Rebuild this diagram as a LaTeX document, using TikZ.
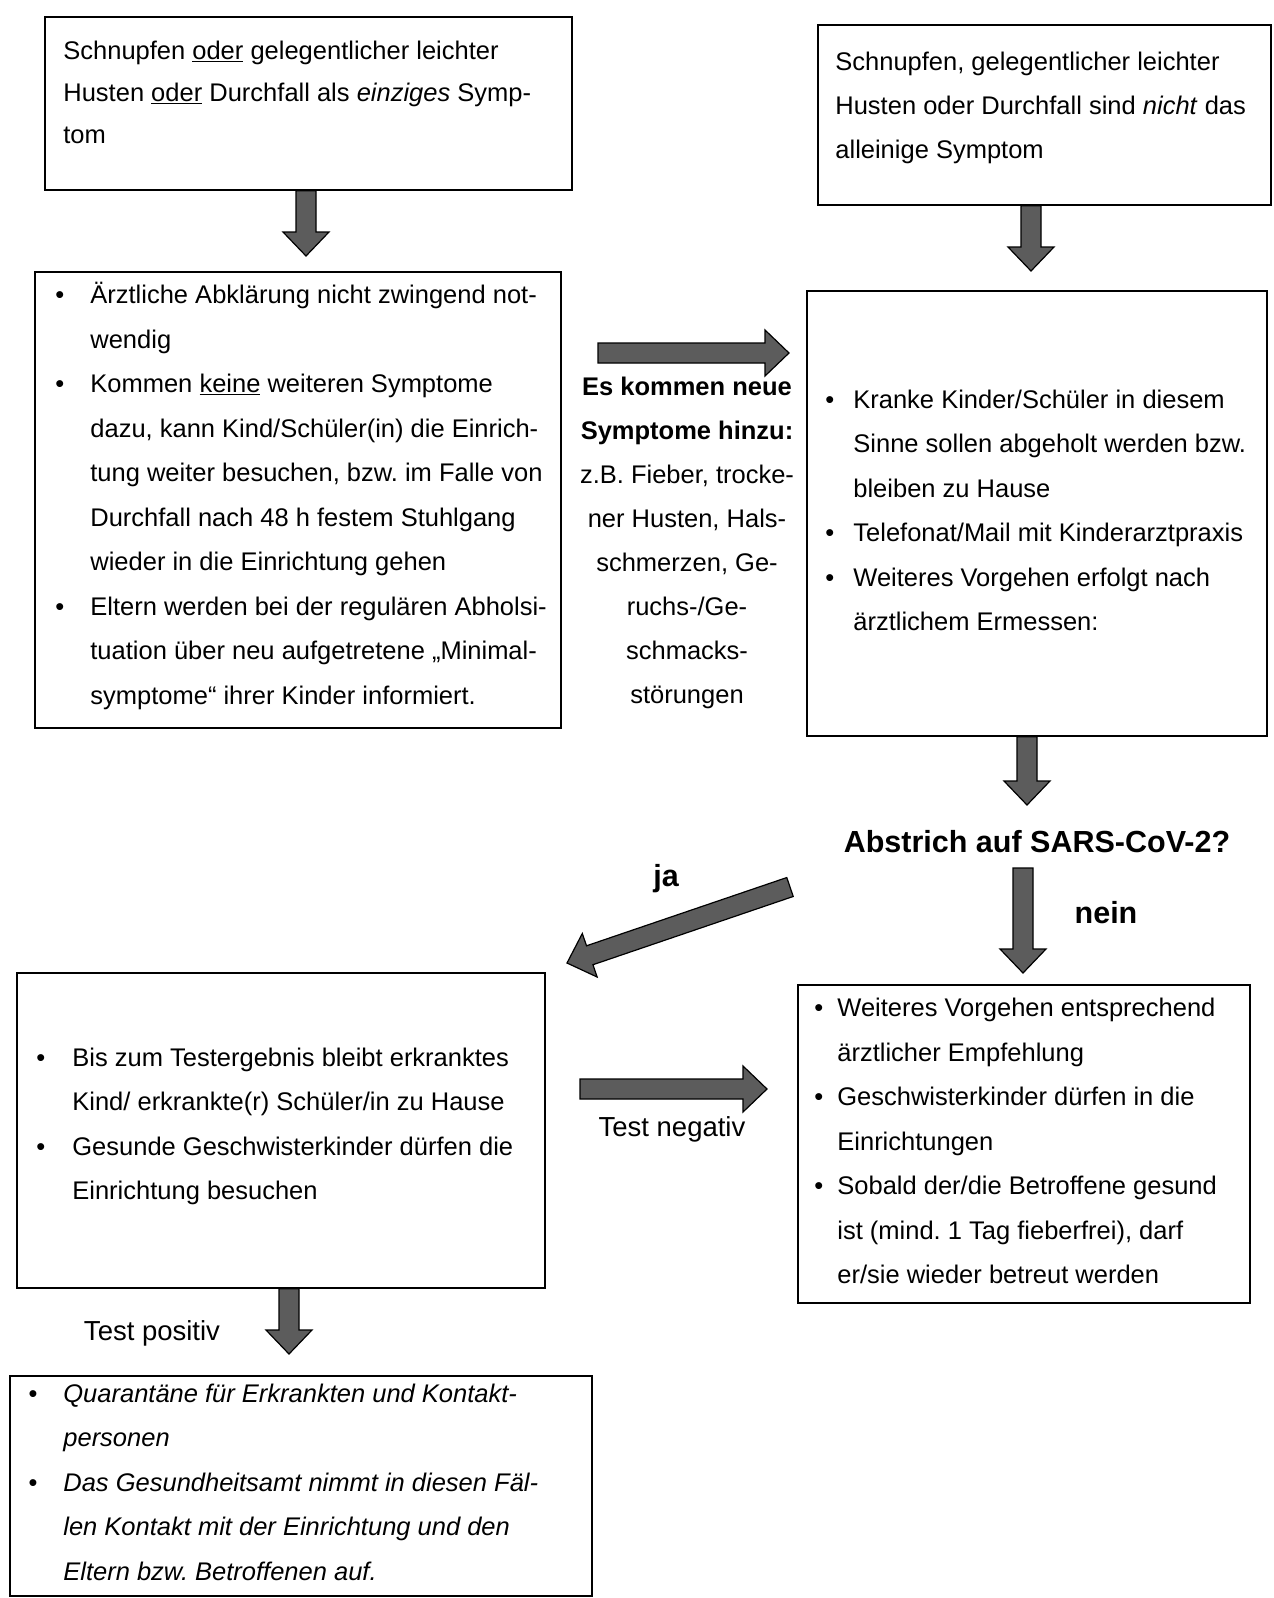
\documentclass[tikz,border=0pt]{standalone}
\usepackage{fontspec}
\setmainfont{Liberation Sans}
\frenchspacing
\usetikzlibrary{calc, fit}
\definecolor{pfeilgrau}{HTML}{5C5C5C}
\newcommand{\pkt}[1]{\makebox[#1][l]{\textbullet}}
\newcommand{\weiter}[1]{\hspace*{#1}}
\tikzset{
  rahmen/.style={draw=black, line width=1.6pt, inner sep=0pt},
  fliess/.style={align=left, inner sep=0pt, anchor=west,
                 font=\fontsize{25.5}{44.5}\selectfont},
  marke/.style={inner sep=0pt, font=\fontsize{30.5}{36}\selectfont\bfseries},
  pfeil/.style={draw=black, line width=1.2pt, fill=pfeilgrau,
    to path={let \p1=($(\tikztotarget)-(\tikztostart)$),
                 \n1={veclen(\x1,\y1)}, \n2={atan2(\y1,\x1)} in
      ($(\tikztostart)+(\n2+90:10pt)$) -- ++(\n2:{\n1-24pt}) -- ++(\n2+90:13pt)
      -- (\tikztotarget)
      -- ($(\tikztostart)+(\n2:{\n1-24pt})+(\n2-90:23pt)$) -- ++(\n2+90:13pt)
      -- ($(\tikztostart)+(\n2-90:10pt)$) -- cycle}}
}

\begin{document}
\begin{tikzpicture}[x=1pt, y=-1pt]
  \useasboundingbox (0,0) rectangle (1274,1598);
  % Kaesten
  \node[rahmen, fit={(45,17) (572,190)}] (b1) {};
  \node[rahmen, fit={(818,25) (1271,205)}] (b2) {};
  \node[rahmen, fit={(35,272) (561,728)}] (b3) {};
  \node[rahmen, fit={(807,291) (1267,736)}] (b4) {};
  \node[rahmen, fit={(17,973) (545,1288)}] (b5) {};
  \node[rahmen, fit={(798,985) (1250,1303)}] (b6) {};
  \node[rahmen, fit={(10,1376) (592,1596)}] (b7) {};

  % Texte
  \node[fliess, font=\fontsize{25.5}{42}\selectfont] (t1) at ($(b1.west)+(19,-11)$)
    {Schnupfen \underline{oder} gelegentlicher leichter\\
     Husten \underline{oder} Durchfall als \textit{einziges} Symp-\\
     tom};
  \node[fliess, font=\fontsize{25.5}{44}\selectfont] (t2) at ($(b2.west)+(18,-7)$)
    {Schnupfen, gelegentlicher leichter\\
     Husten oder Durchfall sind \textit{nicht} das\\
     alleinige Symptom};
  \node[fliess] (t3) at ($(b3.west)+(21,-4)$)
    {\pkt{35pt}Ärztliche Abklärung nicht zwingend not-\\
     \weiter{35pt}wendig\\
     \pkt{35pt}Kommen \underline{keine} weiteren Symptome\\
     \weiter{35pt}dazu, kann Kind/Schüler(in) die Einrich-\\
     \weiter{35pt}tung weiter besuchen, bzw. im Falle von\\
     \weiter{35pt}Durchfall nach 48 h festem Stuhlgang\\
     \weiter{35pt}wieder in die Einrichtung gehen\\
     \pkt{35pt}Eltern werden bei der regulären Abholsi-\\
     \weiter{35pt}tuation über neu aufgetretene „Minimal-\\
     \weiter{35pt}symptome“ ihrer Kinder informiert.};
  \node[align=center, inner sep=0pt, font=\fontsize{25.5}{44}\selectfont] (m1) at (687,543)
    {\textbf{Es kommen neue}\\
     \textbf{Symptome hinzu:}\\
     z.B. Fieber, trocke-\\ner Husten, Hals-\\schmerzen, Ge-\\
     ruchs-/Ge-\\schmacks-\\störungen};
  \node[fliess] (t4) at ($(b4.west)+(19,-3)$)
    {\pkt{28pt}Kranke Kinder/Schüler in diesem\\
     \weiter{28pt}Sinne sollen abgeholt werden bzw.\\
     \weiter{28pt}bleiben zu Hause\\
     \pkt{28pt}Telefonat/Mail mit Kinderarztpraxis\\
     \pkt{28pt}Weiteres Vorgehen erfolgt nach\\
     \weiter{28pt}ärztlichem Ermessen:};
  \node[marke] (q) at (1037,842) {Abstrich auf SARS-CoV-2?};
  \node[marke] (lja) at (666,879) {ja};
  \node[marke] (lnein) at (1106,913) {nein};
  \node[fliess] (t5) at ($(b5.west)+(20,-4)$)
    {\pkt{36pt}Bis zum Testergebnis bleibt erkranktes\\
     \weiter{36pt}Kind/ erkrankte(r) Schüler/in zu Hause\\
     \pkt{36pt}Gesunde Geschwisterkinder dürfen die\\
     \weiter{36pt}Einrichtung besuchen};
  \node[fliess] (t6) at ($(b6.west)+(17,-3)$)
    {\pkt{23pt}Weiteres Vorgehen entsprechend\\
     \weiter{23pt}ärztlicher Empfehlung\\
     \pkt{23pt}Geschwisterkinder dürfen in die\\
     \weiter{23pt}Einrichtungen\\
     \pkt{23pt}Sobald der/die Betroffene gesund\\
     \weiter{23pt}ist (mind. 1 Tag fieberfrei), darf\\
     \weiter{23pt}er/sie wieder betreut werden};
  \node[inner sep=0pt, font=\fontsize{27.5}{32}\selectfont] (lneg) at (672,1129) {Test negativ};
  \node[inner sep=0pt, font=\fontsize{27.5}{32}\selectfont] (lpos) at (152,1333) {Test positiv};
  \node[fliess, font=\fontsize{25.5}{44.5}\selectfont\itshape] (t7) at ($(b7.west)+(19,-4)$)
    {\pkt{35pt}Quarantäne für Erkrankten und Kontakt-\\
     \weiter{35pt}personen\\
     \pkt{35pt}Das Gesundheitsamt nimmt in diesen Fäl-\\
     \weiter{35pt}len Kontakt mit der Einrichtung und den\\
     \weiter{35pt}Eltern bzw. Betroffenen auf.};

  % Pfeile
  \coordinate (e1) at (306,256);
  \coordinate (e2) at (1031,271);
  \coordinate (s3) at (598,353);
  \coordinate (e3) at (789,353);
  \coordinate (e4) at (1027,805);
  \coordinate (s5) at (1023,868);
  \coordinate (e5) at (1023,973);
  \coordinate (s6) at (790,887);
  \coordinate (e6) at (567,963);
  \coordinate (s7) at (580,1089);
  \coordinate (e7) at (767,1089);
  \coordinate (e8) at (289,1354);
  \draw[pfeil] (b1.south -| e1) to (e1);
  \draw[pfeil] (b2.south -| e2) to (e2);
  \draw[pfeil] (s3) to (e3);
  \draw[pfeil] (b4.south -| e4) to (e4);
  \draw[pfeil] (s5) to (e5);
  \draw[pfeil] (s6) to (e6);
  \draw[pfeil] (s7) to (e7);
  \draw[pfeil] (b5.south -| e8) to (e8);
\end{tikzpicture}
\end{document}
